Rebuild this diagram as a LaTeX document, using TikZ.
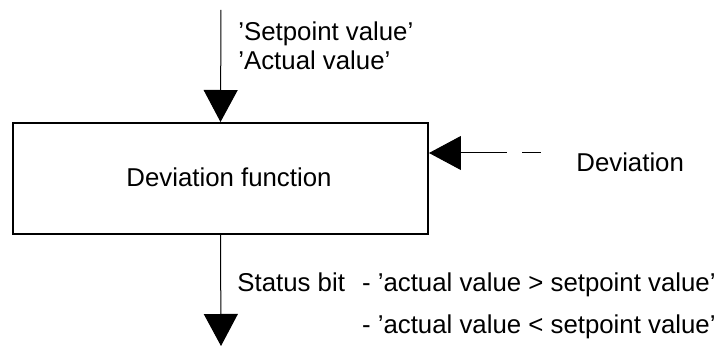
\documentclass[tikz,border=0pt]{standalone}
\usepackage{fontspec}
\setmainfont{Liberation Sans}
\usetikzlibrary{arrows.meta, positioning}

\tikzset{
  fnbox/.style={draw, line width=1pt, minimum width=207.5pt, minimum height=55.5pt, inner sep=0pt},
  sig/.style={line width=0.5pt, -{Triangle[width=17pt,length=16pt]}},
  lbl/.style={inner sep=0pt}
}

\begin{document}
\begin{tikzpicture}[x=0.5pt, y=-0.5pt, font=\fontsize{12.9}{14.5}\selectfont]
          \useasboundingbox (0,0) rectangle (720,347);

          % Function block
          \node[fnbox] (dev) at (220.5,178.5) {};
          \node[lbl, anchor=base] (devtxt) at (229,187) {Deviation function};

          % Inputs from above
          \coordinate (vin) at (221,10);
          \draw[sig] (vin) -- (dev.north);
          \node[lbl, anchor=base west] (spv) at (238,41) {'Setpoint value'};
          \node[lbl, anchor=base west] (acv) at (238,70) {'Actual value'};

          % Deviation from the right
          \coordinate (devsrc) at (541,153);
          \draw[sig, dash pattern=on 9.5pt off 7.5pt on 60pt] (devsrc) -- (devsrc -| dev.east);
          \node[lbl, anchor=base west] (devlbl) at (576,172) {Deviation};

          % Status bits out below
          \coordinate (vout) at (221,346);
          \draw[sig] (dev.south) -- (vout);
          \node[lbl, anchor=base west] (stat) at (237,292) {Status bit};
          \node[lbl, anchor=base east] (st1) at (716,292) {- 'actual value > setpoint value'};
          \node[lbl, anchor=base east] (st2) at (716,334) {- 'actual value < setpoint value'};
      \end{tikzpicture}
\end{document}
